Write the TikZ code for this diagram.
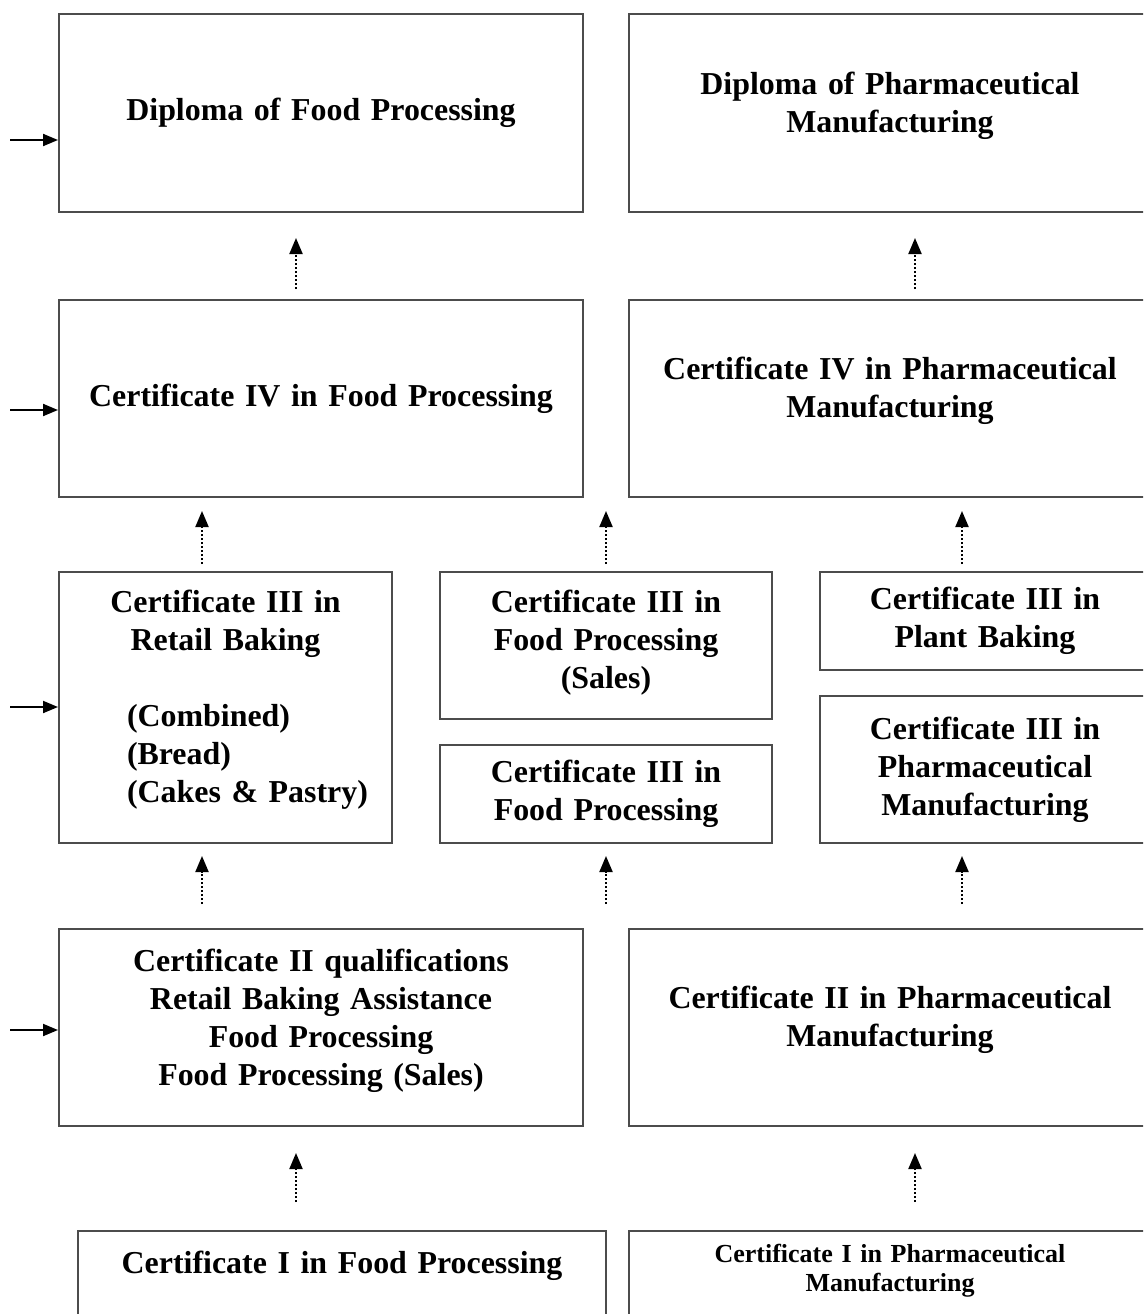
\documentclass[tikz,border=0pt]{standalone}
\usepackage{fontspec}
\setmainfont{Liberation Serif}
\usetikzlibrary{positioning, arrows.meta}

\tikzset{
  box/.style={draw=black!70, line width=2pt, align=center, inner xsep=12pt,
    minimum width=#1, text width=#1-24pt, font=\bfseries\fontsize{31.9}{38}\selectfont},
  textup/.style={execute at end node={\par\kern#1}},
  inarrow/.style={-{Triangle[length=15pt,width=12pt]}, line width=2pt},
  uparrow/.style={-{Triangle[length=16pt,width=13pt]}, line width=2pt, dash pattern=on 2pt off 2pt}
}

\begin{document}
\begin{tikzpicture}[x=1pt, y=-1pt]
    \useasboundingbox (0,0) rectangle (1143,1314);
    \clip (0,0) rectangle (1143,1314);

    % Diplomas
    \node[box=524pt, minimum height=198pt] (dipfood) at (321,113) {Diploma of Food Processing};
    \node[box=522pt, minimum height=198pt, textup=14pt] (dippharm) at (890,113) {Diploma of Pharmaceutical\\Manufacturing};

    % Certificate IV
    \node[box=524pt, minimum height=197pt] (c4food) at (321,398.5) {Certificate IV in Food Processing};
    \node[box=522pt, minimum height=197pt, textup=15pt] (c4pharm) at (890,398.5) {Certificate IV in Pharmaceutical\\Manufacturing};

    % Certificate III
    \node[box=333pt, minimum height=271pt, textup=16pt] (c3retail) at (225.5,707.5)
      {Certificate III in\\Retail Baking\par\vspace{38pt}\raggedright\leftskip=56pt
       (Combined)\\(Bread)\\(Cakes \& Pastry)\par};
    \node[box=332pt, minimum height=147pt, textup=6pt] (c3sales) at (606,645.5) {Certificate III in\\Food Processing\\(Sales)};
    \node[box=332pt, minimum height=98pt] (c3food) at (606,794) {Certificate III in\\Food Processing};
    \node[box=330pt, minimum height=98pt] (c3plant) at (985,621) {Certificate III in\\Plant Baking};
    \node[box=330pt, minimum height=147pt] (c3pharm) at (985,769.5) {Certificate III in\\Pharmaceutical\\Manufacturing};

    % Certificate II
    \node[box=524pt, minimum height=197pt, textup=14pt] (c2food) at (321,1027.5)
      {Certificate II qualifications\\Retail Baking Assistance\\Food Processing\\Food Processing (Sales)};
    \node[box=522pt, minimum height=197pt, textup=16pt] (c2pharm) at (890,1027.5) {Certificate II in Pharmaceutical\\Manufacturing};

    % Certificate I
    \node[box=528pt, anchor=north, inner ysep=20pt, text depth=90pt] (c1food) at (342,1230) {Certificate I in Food Processing};
    \node[box=522pt, anchor=north, inner ysep=13pt, text depth=90pt,
      font=\bfseries\fontsize{26}{29}\selectfont] (c1pharm) at (890,1230) {Certificate I in Pharmaceutical\\Manufacturing};

    % Entry arrows
    \foreach \y/\n in {140/dipfood, 410/c4food, 707/c3retail, 1030/c2food} {
      \coordinate (in) at (10,\y);
      \draw[inarrow] (in) -- (in -| \n.west);
    }

    % Pathways between levels
    \coordinate (a1) at ([xshift=-25pt]c4food.north);
    \coordinate (a2) at ([xshift=25pt]c4pharm.north);
    \draw[uparrow, shorten <=10pt, shorten >=25pt] (a1) -- (a1 |- dipfood.south);
    \draw[uparrow, shorten <=10pt, shorten >=25pt] (a2) -- (a2 |- dippharm.south);

    \coordinate (b1) at ([xshift=-23.5pt]c3retail.north);
    \coordinate (b3) at ([xshift=-23pt]c3plant.north);
    \draw[uparrow, shorten <=7pt, shorten >=13pt] (b1) -- (b1 |- c4food.south);
    \draw[uparrow, shorten <=7pt, shorten >=13pt] (c3sales.north) -- (c3sales.north |- c4food.south);
    \draw[uparrow, shorten <=7pt, shorten >=13pt] (b3) -- (b3 |- c4pharm.south);

    \coordinate (c1) at ([xshift=-23.5pt]c3retail.south);
    \coordinate (c3) at ([xshift=-23pt]c3pharm.south);
    \draw[uparrow, shorten <=24pt, shorten >=12pt] (c1 |- c2food.north) -- (c1);
    \draw[uparrow, shorten <=24pt, shorten >=12pt] (c3food.south |- c2food.north) -- (c3food.south);
    \draw[uparrow, shorten <=24pt, shorten >=12pt] (c3 |- c2pharm.north) -- (c3);

    \coordinate (d1) at ([xshift=-25pt]c2food.south);
    \coordinate (d2) at ([xshift=25pt]c2pharm.south);
    \draw[uparrow, shorten <=28pt, shorten >=26pt] (d1 |- c1food.north) -- (d1);
    \draw[uparrow, shorten <=28pt, shorten >=26pt] (d2 |- c1pharm.north) -- (d2);

\end{tikzpicture}
\end{document}
